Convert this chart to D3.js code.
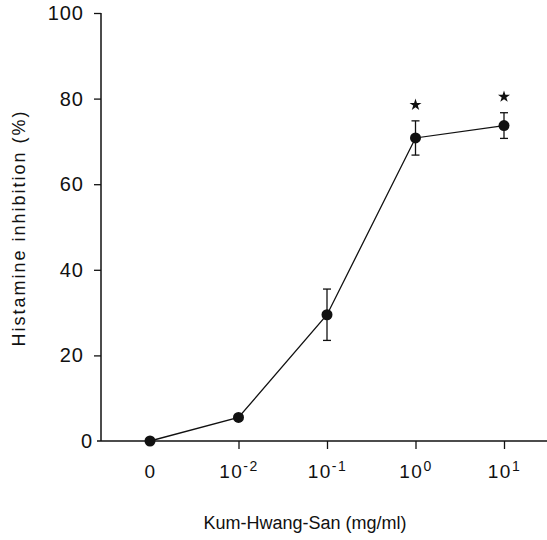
<!DOCTYPE html>
<html>
<head>
<meta charset="utf-8">
<script src="https://cdn.jsdelivr.net/npm/d3@7"></script>
<style>
  body { margin: 0; background: #fff; }
  text { font-family: "Liberation Sans", Arial, sans-serif; fill: #111; }
</style>
</head>
<body>
<svg id="chart" width="547" height="540"></svg>
<script>
// dose categories on x, with exponent for the 10^n labels
const doses = ['0', '1e-2', '1e-1', '1e0', '1e1'];
const exponents = [null, '-2', '-1', '0', '1'];
const inhibition = [0, 5.5, 29.5, 70.8, 73.7];
const errors = [0, 0, 6, 4, 3];
const significant = [false, false, false, true, true];
const yTicks = [0, 20, 40, 60, 80, 100];

const svg = d3.select('#chart');

// x as point scale, y linear 0..100
const x = d3.scalePoint().domain(doses).range([150, 504]);
const y = d3.scaleLinear().domain([0, 100]).range([441, 13]);

// y axis
const yAxis = svg.append('g')
  .attr('transform', 'translate(101,0)')
  .call(d3.axisLeft(y).tickValues(yTicks).tickSize(7).tickPadding(10));
yAxis.select('.domain').attr('d', `M0,${y(100)}V${y(0)}`).attr('stroke', '#111').attr('stroke-width', 1.5);
yAxis.selectAll('.tick line').attr('stroke', '#111').attr('stroke-width', 1.3);
yAxis.selectAll('text').style('font-size', '20px').style('letter-spacing', '1px').attr('fill', '#111');
// the zero sits right against the axis, no tick mark
const zeroTick = yAxis.selectAll('.tick').filter(d => d === 0);
zeroTick.select('line').remove();
zeroTick.select('text').attr('x', -8);

// x axis, line runs to the right edge
const xAxis = svg.append('g')
  .attr('transform', `translate(0,${y(0)})`)
  .call(d3.axisBottom(x).tickSize(8).tickPadding(16).tickFormat(''));
xAxis.select('.domain').attr('d', 'M97,0H547').attr('stroke', '#111').attr('stroke-width', 1.5);
xAxis.selectAll('.tick line').attr('stroke', '#111').attr('stroke-width', 1.3);
xAxis.selectAll('.tick').filter(d => d === '0').select('line').attr('y2', 4);

// tick labels with superscript exponents
xAxis.selectAll('.tick text')
  .style('font-size', '19px')
  .style('letter-spacing', '1.5px')
  .attr('fill', '#111')
  .each(function(d, i) {
    const t = d3.select(this);
    if (exponents[i] === null) { t.text('0'); return; }
    t.text('10');
    t.append('tspan').attr('dy', -7).style('font-size', '14px').text(exponents[i]);
  });

// axis titles
svg.append('text')
  .attr('x', 305).attr('y', 529)
  .attr('text-anchor', 'middle')
  .style('font-size', '18px')
  .text('Kum-Hwang-San (mg/ml)');

svg.append('text')
  .attr('transform', 'translate(25,228) rotate(-90)')
  .attr('text-anchor', 'middle')
  .style('font-size', '18px')
  .style('letter-spacing', '2px')
  .text('Histamine inhibition (%)');

const pts = doses.map((d, i) => ({ d, v: inhibition[i], e: errors[i], s: significant[i] }));

// connecting line
svg.append('path')
  .datum(pts)
  .attr('fill', 'none')
  .attr('stroke', '#111')
  .attr('stroke-width', 1.3)
  .attr('d', d3.line().x(p => x(p.d)).y(p => y(p.v)));

// error bars
const eb = svg.append('g').attr('stroke', '#111').attr('stroke-width', 1.3);
pts.filter(p => p.e > 0).forEach(p => {
  eb.append('line').attr('x1', x(p.d)).attr('x2', x(p.d)).attr('y1', y(p.v - p.e)).attr('y2', y(p.v + p.e));
  [p.v - p.e, p.v + p.e].forEach(v => {
    eb.append('line').attr('x1', x(p.d) - 4).attr('x2', x(p.d) + 4).attr('y1', y(v)).attr('y2', y(v));
  });
});

// markers
svg.append('g').selectAll('circle')
  .data(pts).join('circle')
  .attr('cx', p => x(p.d)).attr('cy', p => y(p.v))
  .attr('r', 5.5).attr('fill', '#111');

// significance stars above the upper error bar
svg.append('g').selectAll('path')
  .data(pts.filter(p => p.s)).join('path')
  .attr('transform', p => `translate(${x(p.d)},${y(p.v + p.e) - 16})`)
  .attr('d', d3.symbol(d3.symbolStar, 45))
  .attr('fill', '#111');
</script>
</body>
</html>
